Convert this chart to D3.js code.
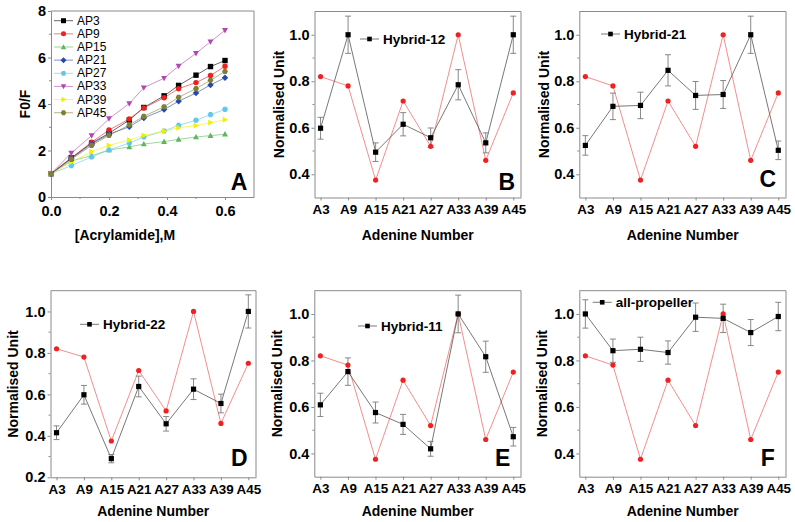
<!DOCTYPE html>
<html><head><meta charset="utf-8">
<script src="https://cdn.jsdelivr.net/npm/d3@7"></script>
<style>body{margin:0;background:#fff}svg{display:block}text{font-family:"Liberation Sans",Arial,sans-serif}</style>
</head><body>
<script>
// ---------- data ----------
const categories = ["A3","A9","A15","A21","A27","A33","A39","A45"];
const reference = [0.82,0.78,0.375,0.715,0.52,1.0,0.46,0.75];

const hybrid12 = [0.598,1.0,0.495,0.615,0.557,0.785,0.535,1.0];
const hybrid12Err = [0.047,0.08,0.04,0.05,0.042,0.065,0.043,0.08];
const hybrid21 = [0.524,0.692,0.696,0.847,0.739,0.743,1.0,0.503];
const hybrid21Err = [0.042,0.057,0.057,0.067,0.06,0.06,0.08,0.04];
const hybrid22 = [0.415,0.598,0.29,0.638,0.458,0.625,0.556,1.0];
const hybrid22Err = [0.033,0.045,0.02,0.05,0.035,0.05,0.045,0.08];
const hybrid11 = [0.609,0.752,0.576,0.525,0.42,1.0,0.816,0.472];
const hybrid11Err = [0.05,0.059,0.045,0.043,0.032,0.081,0.067,0.04];
const allPropeller = [1.0,0.842,0.848,0.834,0.986,0.981,0.92,0.989];
const allPropellerErr = [0.061,0.05,0.052,0.05,0.061,0.061,0.056,0.061];

const acrylamide = [0,0.07,0.14,0.2,0.27,0.32,0.39,0.44,0.5,0.55,0.6];
const apNames = ["AP3","AP9","AP15","AP21","AP27","AP33","AP39","AP45"];
const AP3  = [1,1.68,2.32,2.74,3.31,3.85,4.35,4.80,5.24,5.61,5.87];
const AP9  = [1,1.68,2.36,2.88,3.36,3.83,4.27,4.66,4.92,5.23,5.62];
const AP15 = [1,1.55,1.78,2.02,2.15,2.28,2.38,2.48,2.58,2.64,2.70];
const AP21 = [1,1.65,2.28,2.70,3.02,3.40,3.76,4.12,4.47,4.82,5.13];
const AP27 = [1,1.35,1.72,2.02,2.32,2.58,2.84,3.08,3.30,3.54,3.77];
const AP33 = [1,1.89,2.64,3.37,4.02,4.70,5.11,5.63,6.18,6.68,7.17];
const AP39 = [1,1.50,1.95,2.22,2.45,2.65,2.83,2.98,3.07,3.20,3.32];
const AP45 = [1,1.62,2.22,2.65,3.10,3.47,3.88,4.29,4.66,5.02,5.40];
const apColors = ["#000000","#ee2020","#5cb85c","#2848a8","#60c8ec","#b048b0","#f0f000","#7f7f38"];
const apShapes = ["square","circle","up","diamond","hexagon","down","right","hexagon"];

const acrylTicks = [0,0.2,0.4,0.6];
const foTicks = [0,2,4,6,8];
const normTicks = [0.4,0.6,0.8,1.0];
const normTicksD = [0.2,0.4,0.6,0.8,1.0];

// ---------- drawing ----------
const W = 795, H = 522;
const svg = d3.select("body").append("svg").attr("width",W).attr("height",H);
const FRAME = "#8a8a8a";

function shapePath(type, s){
  const h = s/2;
  switch(type){
    case "square": return `M${-h},${-h}H${h}V${h}H${-h}Z`;
    case "circle": return d3.symbol(d3.symbolCircle, s*s*0.8)();
    case "up": return `M0,${-h*1.15}L${h*1.1},${h*0.85}L${-h*1.1},${h*0.85}Z`;
    case "down": return `M0,${h*1.15}L${h*1.1},${-h*0.85}L${-h*1.1},${-h*0.85}Z`;
    case "right": return `M${h*1.15},0L${-h*0.85},${h*1.1}L${-h*0.85},${-h*1.1}Z`;
    case "diamond": return `M0,${-h*1.2}L${h*1.2},0L0,${h*1.2}L${-h*1.2},0Z`;
    case "hexagon": {
      let p=[]; for(let i=0;i<6;i++){const a=Math.PI/3*i; p.push([h*1.1*Math.cos(a),h*1.1*Math.sin(a)]);}
      return "M"+p.map(d=>d.join(",")).join("L")+"Z";
    }
  }
}

function frame(g, x, y, xTicks, xFmt, yTicks, yFmt, yMinor, xMinor, xFont, xPad){
  const [l,r] = x.range(), [b,t] = y.range();
  const ax = g.append("g").attr("transform",`translate(0,${b})`)
    .call(d3.axisBottom(x).tickValues(xTicks).tickFormat(xFmt).tickSize(3).tickSizeOuter(0).tickPadding(xPad));
  const ay = g.append("g").attr("transform",`translate(${l},0)`)
    .call(d3.axisLeft(y).tickValues(yTicks).tickFormat(yFmt).tickSize(3).tickSizeOuter(0).tickPadding(2));
  [ax,ay].forEach(a=>{
    a.select(".domain").attr("stroke",FRAME);
    a.selectAll(".tick line").attr("stroke",FRAME);
    a.selectAll(".tick text").attr("fill","#000").attr("font-weight","bold")
      .attr("font-family",'"Liberation Sans",Arial,sans-serif');
  });
  ax.selectAll(".tick text").attr("font-size",xFont);
  ay.selectAll(".tick text").attr("font-size",14.5);
  if(yMinor) g.append("g").selectAll("line").data(yMinor).join("line")
    .attr("x1",l).attr("x2",l-2).attr("y1",d=>y(d)).attr("y2",d=>y(d)).attr("stroke",FRAME);
  if(xMinor) g.append("g").selectAll("line").data(xMinor).join("line")
    .attr("y1",b).attr("y2",b+2).attr("x1",d=>x(d)).attr("x2",d=>x(d)).attr("stroke",FRAME);
  g.append("path").attr("d",`M${l},${t}H${r}V${b}`).attr("fill","none").attr("stroke",FRAME);
}

function titles(g, x, y, xt, yt, ytx, xty, xtx){
  const [l,r] = x.range(), [b,t] = y.range();
  g.append("text").attr("x", xtx!==undefined?xtx:(l+r)/2).attr("y",xty).attr("text-anchor","middle")
    .attr("font-weight","bold").attr("font-size",14).text(xt);
  g.append("text").attr("transform",`translate(${ytx},${(t+b)/2}) rotate(-90)`).attr("text-anchor","middle")
    .attr("dominant-baseline","central").attr("font-weight","bold").attr("font-size",14).text(yt);
}

function panelLetter(g, px, py, s){
  g.append("text").attr("x",px).attr("y",py).attr("text-anchor","middle").attr("dominant-baseline","central")
    .attr("font-weight","bold").attr("font-size",23).text(s);
}

// ---------- Panel A ----------
{
  const g = svg.append("g");
  const x = d3.scaleLinear().domain([0,0.7]).range([51,254]);
  const y = d3.scaleLinear().domain([0,8]).range([197,11]);
  frame(g,x,y,acrylTicks,d3.format(".1f"),foTicks,d3.format("d"),[1,3,5,7],[0.1,0.3,0.5],14.5,6);
  titles(g,x,y,"[Acrylamide],M","F0/F",25,240,125);
  const series = [AP3,AP9,AP15,AP21,AP27,AP33,AP39,AP45];
  const line = d3.line().x((d,i)=>x(acrylamide[i])).y(d=>y(d));
  series.forEach((s,k)=>{
    g.append("path").attr("d",line(s)).attr("fill","none").attr("stroke",apColors[k]).attr("stroke-width",0.8).attr("stroke-opacity",0.75);
  });
  series.forEach((s,k)=>{
    g.append("g").selectAll("path").data(s).join("path")
      .attr("transform",(d,i)=>`translate(${x(acrylamide[i])},${y(d)})`)
      .attr("d",shapePath(apShapes[k],5.4)).attr("fill",apColors[k]);
  });
  apNames.forEach((n,k)=>{
    const ly = 20.7 + k*13.15;
    g.append("line").attr("x1",54).attr("x2",73).attr("y1",ly).attr("y2",ly).attr("stroke",apColors[k]).attr("stroke-width",0.8).attr("stroke-opacity",0.75);
    g.append("path").attr("transform",`translate(63.5,${ly})`).attr("d",shapePath(apShapes[k],5)).attr("fill",apColors[k]);
    g.append("text").attr("x",77).attr("y",ly).attr("dominant-baseline","central").attr("font-size",12).text(n);
  });
  panelLetter(g,239,182,"A");
}

// ---------- Normalised panels ----------
function normPanel(cfg){
  const g = svg.append("g");
  const x = d3.scaleLinear().domain([-0.22,7.28]).range([cfg.l,cfg.r]);
  const y = d3.scaleLinear().domain(cfg.yd).range([cfg.b,cfg.t]);
  const minor = [0.3,0.5,0.7,0.9].filter(v=>v>cfg.yd[0]);
  frame(g,x,y,d3.range(categories.length),i=>categories[i],cfg.ticks,d3.format(".1f"),minor,null,13.4,4);
  titles(g,x,y,"Adenine Number","Normalised Unit",cfg.ytx,cfg.xty);
  const line = d3.line().x((d,i)=>x(i)).y(d=>y(d));
  g.append("path").attr("d",line(reference)).attr("fill","none").attr("stroke","#f07070").attr("stroke-width",0.8);
  g.append("path").attr("d",line(cfg.vals)).attr("fill","none").attr("stroke","#555").attr("stroke-width",0.8);
  const eb = g.append("g").attr("stroke","#7a7a7a").attr("stroke-width",0.9);
  cfg.vals.forEach((v,i)=>{
    const e = cfg.err[i], cx = x(i);
    eb.append("line").attr("x1",cx).attr("x2",cx).attr("y1",y(v-e)).attr("y2",y(v+e));
    eb.append("line").attr("x1",cx-3).attr("x2",cx+3).attr("y1",y(v-e)).attr("y2",y(v-e));
    eb.append("line").attr("x1",cx-3).attr("x2",cx+3).attr("y1",y(v+e)).attr("y2",y(v+e));
  });
  g.append("g").selectAll("circle").data(reference).join("circle")
    .attr("cx",(d,i)=>x(i)).attr("cy",d=>y(d)).attr("r",2.6).attr("fill","#ee2222");
  g.append("g").selectAll("rect").data(cfg.vals).join("rect")
    .attr("x",(d,i)=>x(i)-2.6).attr("y",d=>y(d)-2.6).attr("width",5.2).attr("height",5.2).attr("fill","#000");
  g.append("line").attr("x1",cfg.lg[0]).attr("x2",cfg.lg[0]+19).attr("y1",cfg.lg[1]).attr("y2",cfg.lg[1]).attr("stroke","#555").attr("stroke-width",0.8);
  g.append("rect").attr("x",cfg.lg[0]+9.5-2.3).attr("y",cfg.lg[1]-2.3).attr("width",4.6).attr("height",4.6).attr("fill","#000");
  g.append("text").attr("x",cfg.lg[0]+23).attr("y",cfg.lg[1]).attr("dominant-baseline","central")
    .attr("font-weight","bold").attr("font-size",13.5).text(cfg.name);
  panelLetter(g,cfg.let[0],cfg.let[1],cfg.letter);
}

normPanel({l:314.5,r:521,t:11.5,b:197.5,yd:[0.3,1.1],ticks:normTicks,vals:hybrid12,err:hybrid12Err,
  name:"Hybrid-12",lg:[360,39],letter:"B",let:[506.7,182],ytx:279,xty:240});
normPanel({l:579.3,r:786,t:11.5,b:197.5,yd:[0.3,1.1],ticks:normTicks,vals:hybrid21,err:hybrid21Err,
  name:"Hybrid-21",lg:[601,34],letter:"C",let:[767.7,178.5],ytx:544,xty:240});
normPanel({l:50.5,r:256,t:290.7,b:477.3,yd:[0.2,1.1],ticks:normTicksD,vals:hybrid22,err:hybrid22Err,
  name:"Hybrid-22",lg:[80,324.3],letter:"D",let:[239.3,458.3],ytx:13,xty:516});
normPanel({l:314.3,r:521,t:290.7,b:476.7,yd:[0.3,1.1],ticks:normTicks,vals:hybrid11,err:hybrid11Err,
  name:"Hybrid-11",lg:[358,326],letter:"E",let:[502.7,458.3],ytx:277,xty:516});
normPanel({l:579.3,r:786,t:290.7,b:476.7,yd:[0.3,1.1],ticks:normTicks,vals:allPropeller,err:allPropellerErr,
  name:"all-propeller",lg:[592.7,302.3],letter:"F",let:[767.7,458.3],ytx:542,xty:516});
</script>
</body></html>
